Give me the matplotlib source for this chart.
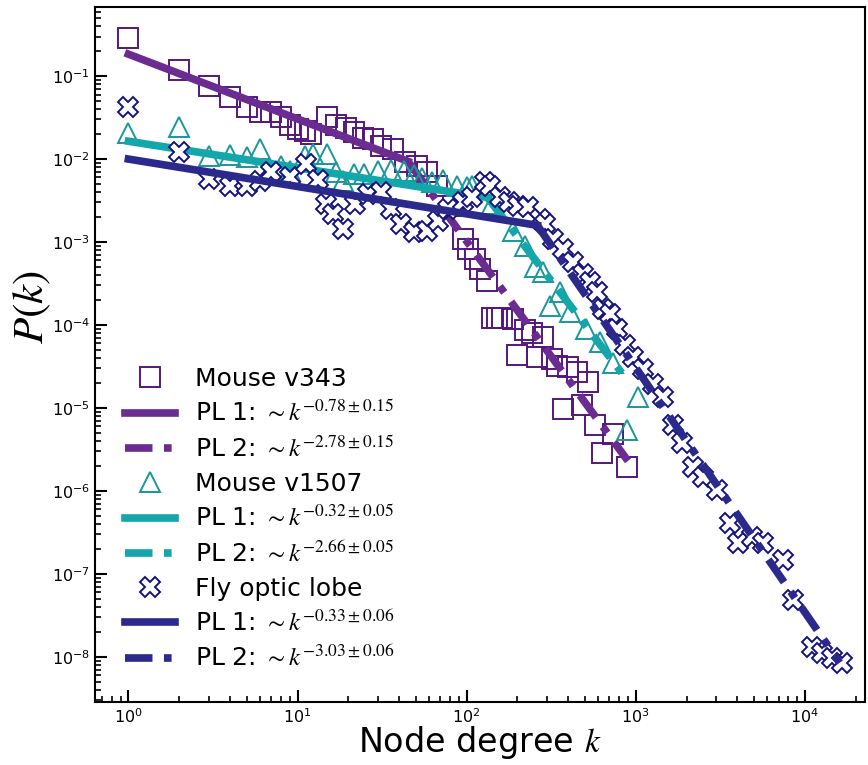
import matplotlib
matplotlib.use("Agg")
import matplotlib.pyplot as plt
from matplotlib.lines import Line2D

plt.rcParams['mathtext.fontset'] = 'stix'
plt.rcParams['font.family'] = ['DejaVu Sans']

# ---------------- data ----------------
# Mouse v343 (squares)
k_m343 = [1, 2, 3, 4, 5, 6, 7, 8, 9, 10, 11, 12, 15, 16.8, 19.3, 21.5, 24.3, 27.8, 31, 36.5,
          43.5, 51, 58.7, 67, 82.6, 94.6, 102.6, 112.8, 120.7, 132.8, 142, 152, 163, 187, 223,
          245, 284, 200, 262, 321, 344, 400, 452, 525, 373, 483, 577, 634, 736, 892]
p_m343 = [0.29, 0.118, 0.076, 0.056, 0.042, 0.037, 0.037, 0.032, 0.026, 0.023, 0.0217, 0.020,
          0.032, 0.026, 0.024, 0.021, 0.018, 0.0174, 0.0143, 0.0131, 0.0092, 0.0082, 0.0069,
          0.0047, 0.0027, 0.00108, 0.00082, 0.00062, 0.00047, 0.000336, 0.000123, 0.000123,
          0.000123, 0.000117, 8.8e-5, 8.1e-5, 7.1e-5, 4.4e-5, 4.1e-5, 3.85e-5, 3.2e-5, 3.1e-5,
          2.75e-5, 2.03e-5, 9.6e-6, 1.1e-5, 6.3e-6, 2.9e-6, 4.8e-6, 1.96e-6]

# Mouse v1507 (triangles)
k_m1507 = [1, 2, 3, 4, 5, 6, 8, 9, 11, 12.4, 15, 16.8, 18.7, 21.5, 24.6, 29.8, 35.5, 42.4,
           48.6, 54.8, 62.8, 73, 88, 101, 108, 142, 189, 223, 255, 284, 313, 359, 411, 505,
           618, 738, 892, 1036]
p_m1507 = [0.0205, 0.0242, 0.0108, 0.0111, 0.0105, 0.0131, 0.0082, 0.0071, 0.0108, 0.0115,
           0.0115, 0.0069, 0.0054, 0.0067, 0.0067, 0.0071, 0.0073, 0.0071, 0.0064, 0.0059,
           0.0053, 0.0056, 0.0047, 0.0046, 0.0047, 0.00285, 0.00135, 8.9e-4, 4.95e-4, 4.3e-4,
           1.68e-4, 2.47e-4, 1.42e-4, 8.9e-5, 6.2e-5, 3.5e-5, 5.5e-6, 1.34e-5]

# Fly optic lobe (crosses)
k_fly = [1, 2, 3, 4, 5, 6, 7, 9, 11.2, 13.2, 14.7, 16.3, 18.7, 22, 26, 31, 35.5, 40.7, 48.6,
         58, 67.3, 78, 94.6, 108, 128, 138, 158, 177, 202, 232, 273, 292, 326, 373, 428, 490,
         539, 593, 643, 707, 778, 868, 968, 1109, 1270, 1456, 1668, 1887, 2191, 2512, 3036,
         3622, 4036, 4887, 5675, 7447, 8531, 11040, 12650, 14490, 16600]
p_fly = [0.042, 0.0121, 0.0057, 0.0047, 0.0047, 0.0054, 0.0069, 0.0060, 0.0087, 0.0056,
         0.00285, 0.00216, 0.00143, 0.00285, 0.00377, 0.0040, 0.00248, 0.00164, 0.00131,
         0.00135, 0.00178, 0.00248, 0.0030, 0.00347, 0.00526, 0.0047, 0.00347, 0.0030, 0.0027,
         0.00262, 0.00188, 0.00164, 0.00108, 8.2e-4, 5.7e-4, 4.1e-4, 3.27e-4, 2.47e-4,
         1.54e-4, 1.34e-4, 8.9e-5, 5.8e-5, 4.06e-5, 2.91e-5, 1.92e-5, 1.34e-5, 6.3e-6,
         3.83e-6, 1.96e-6, 1.49e-6, 1.04e-6, 4.14e-7, 2.38e-7, 2.81e-7, 2.38e-7, 1.48e-7,
         4.88e-8, 1.32e-8, 1.12e-8, 9.7e-9, 8.5e-9]

# Power-law fit segments (endpoints)
k_m343_pl1, p_m343_pl1 = [1, 45], [0.184, 0.0094]
k_m343_pl2, p_m343_pl2 = [45, 900], [0.0094, 2.3e-6]
k_m1507_pl1, p_m1507_pl1 = [1, 133], [0.0164, 0.00344]
k_m1507_pl2, p_m1507_pl2 = [133, 868], [0.00344, 2.33e-5]
k_fly_pl1, p_fly_pl1 = [1, 262], [0.0100, 0.00159]
k_fly_pl2, p_fly_pl2 = [262, 16100], [0.00159, 8.5e-9]

labels = ['Mouse v343', r'PL 1: $\sim k^{-0.78\pm0.15}$', r'PL 2: $\sim k^{-2.78\pm0.15}$',
          'Mouse v1507', r'PL 1: $\sim k^{-0.32\pm0.05}$', r'PL 2: $\sim k^{-2.66\pm0.05}$',
          'Fly optic lobe', r'PL 1: $\sim k^{-0.33\pm0.06}$', r'PL 2: $\sim k^{-3.03\pm0.06}$']

# ---------------- style ----------------
c_purple_m, c_purple_l = '#55177f', '#6b2c91'
c_teal_m, c_teal_l = '#1a979c', '#13a6aa'
c_navy_m, c_navy_l = '#14127c', '#2b2a8c'
lw = 5.5
dash = (0, (3.6, 1.5, 1.0, 1.5))
ms = 15

fig = plt.figure(figsize=(8.68, 7.65), dpi=100)
ax = fig.add_axes([0.1094, 0.0824, 0.8871, 0.9084])

h = []
h += ax.plot(k_m343, p_m343, ls='none', marker='s', ms=ms, mfc='none', mec=c_purple_m, mew=1.4)
h += ax.plot(k_m343_pl1, p_m343_pl1, color=c_purple_l, lw=lw)
h += ax.plot(k_m343_pl2, p_m343_pl2, color=c_purple_l, lw=lw, ls=dash)
h += ax.plot(k_m1507, p_m1507, ls='none', marker='^', ms=ms, mfc='none', mec=c_teal_m, mew=1.4)
h += ax.plot(k_m1507_pl1, p_m1507_pl1, color=c_teal_l, lw=lw)
h += ax.plot(k_m1507_pl2, p_m1507_pl2, color=c_teal_l, lw=lw, ls=dash)
h += ax.plot(k_fly, p_fly, ls='none', marker='X', ms=ms, mfc='white', mec=c_navy_m, mew=1.4)
h += ax.plot(k_fly_pl1, p_fly_pl1, color=c_navy_l, lw=lw)
h += ax.plot(k_fly_pl2, p_fly_pl2, color=c_navy_l, lw=lw, ls=dash)

ax.set_xscale('log')
ax.set_yscale('log')
ax.set_xlim(0.634, 22700)
ax.set_ylim(2.86e-9, 0.68)

for s in ax.spines.values():
    s.set_linewidth(1.5)
ax.tick_params(which='major', direction='in', length=8.6, width=1.5, labelsize=11.5,
               top=False, right=False)
ax.tick_params(which='minor', direction='in', length=4.3, width=1.2, top=False, right=False)

ax.set_xlabel(r'Node degree $k$', fontsize=24, labelpad=-1)
ax.set_ylabel(r'$P(k)$', fontsize=31)
ax.yaxis.set_label_coords(-0.055, 0.568)

leg_handles = [
    Line2D([], [], ls='none', marker='s', ms=ms, mfc='none', mec=c_purple_m, mew=1.4),
    h[1], h[2],
    Line2D([], [], ls='none', marker='^', ms=ms, mfc='none', mec=c_teal_m, mew=1.4),
    h[4], h[5],
    Line2D([], [], ls='none', marker='X', ms=ms, mfc='white', mec=c_navy_m, mew=1.4),
    h[7], h[8]]
ax.legend(leg_handles, labels, loc='lower left', bbox_to_anchor=(0.0, 0.0), frameon=False,
          fontsize=18, labelspacing=0.4, handlelength=2.0, handletextpad=0.8,
          borderaxespad=0.82)

fig.savefig('out.png', dpi=100)
